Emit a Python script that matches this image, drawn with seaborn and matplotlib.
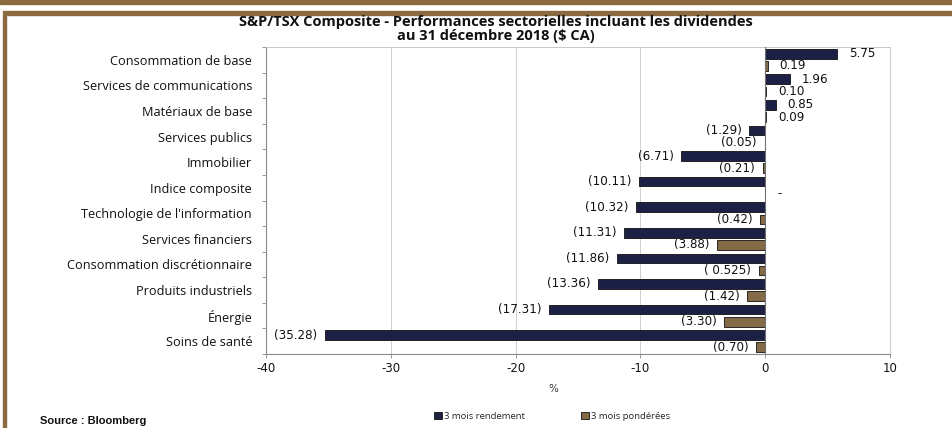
import matplotlib
matplotlib.use("Agg")
import matplotlib.pyplot as plt
import seaborn as sns
import pandas as pd
import numpy as np
from matplotlib.patches import Rectangle

categories = ["Consommation de base", "Services de communications", "Matériaux de base",
              "Services publics", "Immobilier", "Indice composite",
              "Technologie de l'information", "Services financiers",
              "Consommation discrétionnaire", "Produits industriels", "Énergie",
              "Soins de santé"]
series_names = ["3 mois rendement", "3 mois pondérées"]
rendement = [5.75, 1.96, 0.85, -1.29, -6.71, -10.11, -10.32, -11.31, -11.86, -13.36, -17.31, -35.28]
ponderees = [0.19, 0.10, 0.09, -0.05, -0.21, 0.0, -0.42, -3.88, -0.525, -1.42, -3.30, -0.70]
labels_rendement = ["5.75", "1.96", "0.85", "(1.29)", "(6.71)", "(10.11)", "(10.32)",
                    "(11.31)", "(11.86)", "(13.36)", "(17.31)", "(35.28)"]
labels_ponderees = ["0.19", "0.10", "0.09", "(0.05)", "(0.21)", "-", "(0.42)",
                    "(3.88)", "( 0.525)", "(1.42)", "(3.30)", "(0.70)"]
xticks = [-40, -30, -20, -10, 0, 10]

NAVY = "#161b4c"
BROWN = "#8f6b3d"
DECOR = "#8b6a3f"

df = pd.DataFrame({
    "cat": categories * 2,
    "val": rendement + ponderees,
    "serie": [series_names[0]] * len(categories) + [series_names[1]] * len(categories),
})

sns.set_theme(style="white")
plt.rcParams["font.family"] = ["DejaVu Sans"]

fig = plt.figure(figsize=(9.52, 4.28), dpi=100)
ax = fig.add_axes([266 / 952, 1 - 354 / 428, 624 / 952, 307 / 428])

sns.barplot(data=df, y="cat", x="val", hue="serie", orient="h",
            palette=[NAVY, BROWN], width=0.95, gap=0.2, errorbar=None,
            edgecolor="#111111", linewidth=0.6, ax=ax)

ax.set_xlim(-40, 10)
ax.set_ylim(11.5, -0.5)
ax.set_xticks(xticks)
ax.set_xticklabels([str(t) for t in xticks], fontsize=8.5, color="#111111")
ax.set_yticks(range(len(categories)))
ax.set_yticklabels(categories, fontsize=9.2, family="Open Sans", color="#111111")
ax.set_yticks(np.arange(-0.5, len(categories), 1), minor=True)
ax.tick_params(axis="y", which="major", length=0, pad=10)
ax.tick_params(axis="y", which="minor", left=True, length=3, width=0.6, color="#888888")
ax.tick_params(axis="x", which="major", bottom=True, length=3, width=0.6, color="#888888", pad=3)
ax.set_ylabel("")
ax.set_xlabel("%", fontsize=7.5, color="#333333")
ax.xaxis.set_label_coords(0.46, -0.098)

for x in [-30, -20, -10]:
    ax.axvline(x, color="#d0d0d0", lw=0.7, zorder=0)
ax.axvline(0, color="#707070", lw=0.8, zorder=3)

for side in ["top", "right"]:
    ax.spines[side].set_color("#c8c8c8")
    ax.spines[side].set_linewidth(0.7)
for side in ["left", "bottom"]:
    ax.spines[side].set_color("#8a8a8a")
    ax.spines[side].set_linewidth(0.8)

for container, labs in zip(ax.containers, [labels_rendement, labels_ponderees]):
    for patch, lab in zip(container.patches, labs):
        w = patch.get_width()
        x0 = patch.get_x()
        end = x0 + w
        yc = patch.get_y() + patch.get_height() / 2
        if end >= 0:
            ax.annotate(lab, (end, yc), xytext=(8.5, 0), textcoords="offset points",
                        ha="left", va="center", fontsize=8.6, color="#111111")
        else:
            ax.annotate(lab, (end, yc), xytext=(-5.5, 0), textcoords="offset points",
                        ha="right", va="center", fontsize=8.6, color="#111111")

handles, labs = ax.get_legend_handles_labels()
if ax.get_legend() is not None:
    ax.get_legend().remove()
fig.legend(handles, labs, loc="center", bbox_to_anchor=(0.58, 0.028), ncol=2,
           frameon=False, prop={"family": "Open Sans", "size": 6.8},
           handlelength=0.8, handleheight=0.8, handletextpad=0.2, columnspacing=6)

fig.text(0.521, 1 - 29 / 428,
         "S&P/TSX Composite - Performances sectorielles incluant les dividendes\nau 31 décembre 2018 ($ CA)",
         ha="center", va="center", fontsize=10.5, fontweight="bold", family="Open Sans",
         linespacing=1.08, color="#111111")
fig.text(40 / 952, 1 - 421 / 428, "Source : Bloomberg", ha="left", va="center",
         fontsize=8, fontweight="bold", family="Liberation Sans", color="#111111")

# decorative frame
fig.patches.append(Rectangle((0, 1 - 4 / 428), 1, 4 / 428, transform=fig.transFigure,
                             color=DECOR, zorder=0))
fig.patches.append(Rectangle((3 / 952, 1 - 15 / 428), 949 / 952, 4 / 428,
                             transform=fig.transFigure, color=DECOR, zorder=0))
fig.patches.append(Rectangle((3 / 952, 0), 3 / 952, 1 - 15 / 428,
                             transform=fig.transFigure, color=DECOR, zorder=0))

fig.savefig("out.png", dpi=100)
